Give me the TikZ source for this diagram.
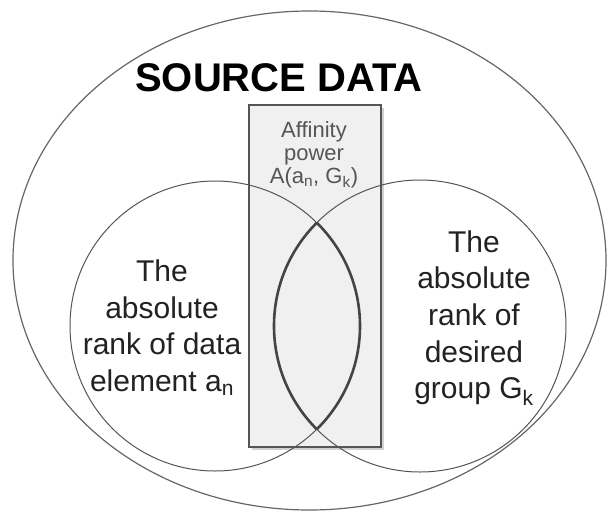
\documentclass[tikz,border=0pt]{standalone}
\usepackage{fontspec}
\setmainfont{Liberation Sans}
\definecolor{rimgray}{HTML}{666666}
\definecolor{linegray}{HTML}{555555}
\definecolor{lensgray}{HTML}{444444}
\definecolor{boxfill}{HTML}{F0F0F0}
\definecolor{textdark}{HTML}{222222}
\tikzset{
    ringline/.style={draw=linegray, line width=1pt},
    lensline/.style={draw=lensgray, line width=2.6pt},
    circletext/.style={align=center, text=textdark, inner sep=0pt,
        font=\fontsize{30}{36.7}\selectfont},
}
\begin{document}
\begin{tikzpicture}[x=1pt, y=-1pt]
            \useasboundingbox (0, 0) rectangle (608, 512);
            \fill[white] (0, 0) rectangle (608, 512);

            % Aussenellipse
            \draw[rimgray, line width=1.2pt] (309.5, 260.5) ellipse (296.5 and 249.5);

            % Kasten mit Schatten
            \fill[black!18] (251.5, 107.5) rectangle (383.5, 449.5);
            \filldraw[fill=boxfill, draw=linegray, line width=1.4pt] (249, 105) rectangle (381, 447);

            % Kreise
            \draw[ringline] (215, 326) circle (145);
            \draw[ringline] (420, 326) circle (146);

            % Schnittlinse
            \begin{scope}
                \clip (215, 326) circle (145);
                \draw[lensline] (420, 326) circle (146);
            \end{scope}
            \begin{scope}
                \clip (420, 326) circle (146);
                \draw[lensline] (215, 326) circle (145);
            \end{scope}

            % Beschriftungen
            \node[inner sep=0pt, text=black, font=\bfseries\fontsize{40}{48}\selectfont] (title) at (279, 78) {SOURCE DATA};
            \node[align=center, inner sep=0pt, text=linegray, font=\fontsize{22}{23}\selectfont] (affinity) at (314, 154.5)
                {Affinity\\power\\A(a\textsubscript{n}, G\textsubscript{k})};
            \node[circletext] (element) at (162, 327.5)
                {The\\absolute\\rank of data\\element a\textsubscript{n}};
            \node[circletext] (group) at (474, 318)
                {The\\absolute\\rank of\\desired\\group G\textsubscript{k}};
        \end{tikzpicture}
\end{document}
